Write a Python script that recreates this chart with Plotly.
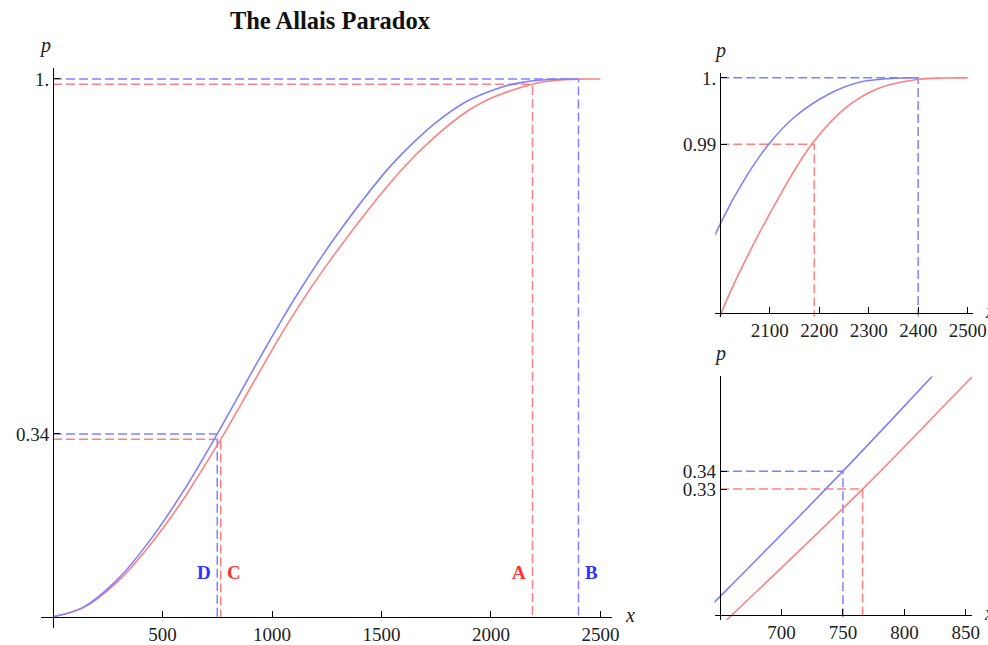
import plotly.graph_objects as go

# ---- data ----
blue_x = [0, 139, 291, 444, 596, 672, 750, 825, 916, 1046, 1130, 1282, 1511, 1587,
          1740, 1892, 2002, 2049, 2098, 2150, 2218, 2285, 2353, 2400]
blue_p = [0, 0.018, 0.068, 0.143, 0.234, 0.2853, 0.340, 0.3946, 0.461, 0.553, 0.609,
          0.702, 0.824, 0.858, 0.916, 0.959, 0.9783, 0.9847, 0.990, 0.9941, 0.9975,
          0.9994, 0.99995, 1.0]
red_x = [0, 139, 291, 444, 596, 650, 766, 850, 1084, 1282, 1587, 1740, 1892, 2002,
         2049, 2117, 2184, 2252, 2319, 2397, 2454, 2500]
red_p = [0, 0.017, 0.064, 0.134, 0.219, 0.2535, 0.330, 0.389, 0.553, 0.672, 0.829,
         0.891, 0.940, 0.9645, 0.9722, 0.9818, 0.9899, 0.9954, 0.9984, 0.99975, 0.99998, 1.0]

blue_crit_x = [2400, 750]
blue_crit_p = [1.0, 0.34]
blue_crit_lbl = ["B", "D"]
red_crit_x = [2190, 766]
red_crit_p = [0.99, 0.33]
red_crit_lbl = ["A", "C"]

main_xticks = [500, 1000, 1500, 2000, 2500]
main_yticks = [0.34, 1.0]
main_yticktext = ["0.34", "1."]
top_xticks = [2100, 2200, 2300, 2400, 2500]
top_yticks = [0.99, 1.0]
top_yticktext = ["0.99", "1."]
bot_xticks = [700, 750, 800, 850]
bot_yticks = [0.33, 0.34]
bot_yticktext = ["0.33", "0.34"]

TITLE = "The Allais Paradox"

BLUE = "rgb(128,128,255)"
RED = "rgb(255,128,128)"
BLUE_T = "rgb(50,50,255)"
RED_T = "rgb(255,50,50)"
FONT = "Liberation Serif, Times New Roman, serif"
RW, RH = 988, 645      # reference picture size (layout designed in these pixels)
SX = 1.0152            # horizontal page compensation
W, H = round(RW * SX), RH

def px_dom_x(a, b):
    return [a / RW, b / RW]

def px_dom_y(top, bottom):
    return [1 - bottom / RH, 1 - top / RH]

panels = {
    "": (px_dom_x(41, 611.8), px_dom_y(63.5, 634.3), [-55, 2555], [-0.02, 1.02], (0, 0), "right"),
    "2": (px_dom_x(714.6, 971.6), px_dom_y(68.6, 317), [1990, 2510], [0.9640, 1.0007], (2000, 0.9645), "center"),
    "3": (px_dom_x(713.8, 971), px_dom_y(378.1, 626.4), [645.5, 855], [0.2571, 0.3928], (650, 0.2598), "center"),
}
ticks = {
    "": (main_xticks, [str(v) for v in main_xticks], main_yticks, main_yticktext),
    "2": (top_xticks, [str(v) for v in top_xticks], top_yticks, top_yticktext),
    "3": (bot_xticks, [str(v) for v in bot_xticks], bot_yticks, bot_yticktext),
}

fig = go.Figure()
layout = dict(
    width=W, height=H, autosize=False, margin=dict(l=0, r=0, t=0, b=0, pad=0),
    paper_bgcolor="white", plot_bgcolor="white", showlegend=False,
    font=dict(family=FONT, size=19, color="black"),
)
annotations = []

for key, (xd, yd, xr, yr, org, panchor) in panels.items():
    xa, ya = "x" + key, "y" + key
    ypos = yd[0] + (org[1] - yr[0]) / (yr[1] - yr[0]) * (yd[1] - yd[0])
    xpos = xd[0] + (org[0] - xr[0]) / (xr[1] - xr[0]) * (xd[1] - xd[0])
    xt, xtt, yt, ytt = ticks[key]
    common = dict(showgrid=False, zeroline=False, showline=True, linecolor="black",
                  linewidth=1.3, ticks="inside", ticklen=6, tickcolor="black",
                  tickwidth=1.2, tickfont=dict(family=FONT, size=19, color="#222"),
                  anchor="free", fixedrange=True)
    layout["xaxis" + key] = dict(domain=xd, range=xr, position=ypos, tickvals=xt,
                                 ticktext=xtt, **common)
    layout["yaxis" + key] = dict(domain=yd, range=yr, position=xpos, tickvals=yt,
                                 ticktext=ytt, **common)

    for cx, cp, col in list(zip(blue_crit_x, blue_crit_p, [BLUE] * 2)) + \
                       list(zip(red_crit_x, red_crit_p, [RED] * 2)):
        fig.add_trace(go.Scatter(x=[org[0], cx, cx], y=[cp, cp, 0], mode="lines",
                                 line=dict(color=col, width=1.5, dash="9px,4px"),
                                 xaxis=xa, yaxis=ya, hoverinfo="skip"))
    fig.add_trace(go.Scatter(x=red_x, y=red_p, mode="lines",
                             line=dict(color=RED, width=1.6, shape="spline", smoothing=1.0),
                             xaxis=xa, yaxis=ya))
    fig.add_trace(go.Scatter(x=blue_x, y=blue_p, mode="lines",
                             line=dict(color=BLUE, width=1.6, shape="spline", smoothing=1.0),
                             xaxis=xa, yaxis=ya))

    annotations.append(dict(text="<i>p</i>", xref=xa, x=org[0], yref=ya + " domain", y=1,
                            xanchor=panchor, yanchor="bottom", yshift=9, showarrow=False,
                            font=dict(family=FONT, size=20, color="#222")))
    annotations.append(dict(text="<i>x</i>", xref=xa + " domain", x=1, yref=ya, y=org[1],
                            xanchor="left", yanchor="middle", xshift=10 * SX, yshift=2,
                            showarrow=False, font=dict(family=FONT, size=20, color="#222")))

for cx, lbl, col, side in zip(blue_crit_x + red_crit_x, blue_crit_lbl + red_crit_lbl,
                              [BLUE_T, BLUE_T, RED_T, RED_T], ["left", "right", "right", "left"]):
    annotations.append(dict(text="<b>" + lbl + "</b>", xref="x", x=cx, yref="y", y=0.082,
                            xanchor=side, yanchor="middle",
                            xshift=(4 if side == "left" else -4) * SX, showarrow=False,
                            font=dict(family=FONT, size=19, color=col)))

layout["annotations"] = annotations
layout["title"] = dict(text="<b>" + TITLE + "</b>", x=325 / RW, xanchor="center",
                       y=1 - 20 / RH, yanchor="middle",
                       font=dict(family=FONT, size=24.5, color="#111"))
fig.update_layout(**layout)
fig.write_html("out.html", config={"displayModeBar": False, "responsive": False},
               post_script="document.documentElement.style.overflow='hidden';"
                           "document.body.style.margin='0px';document.body.style.overflow='hidden';")
